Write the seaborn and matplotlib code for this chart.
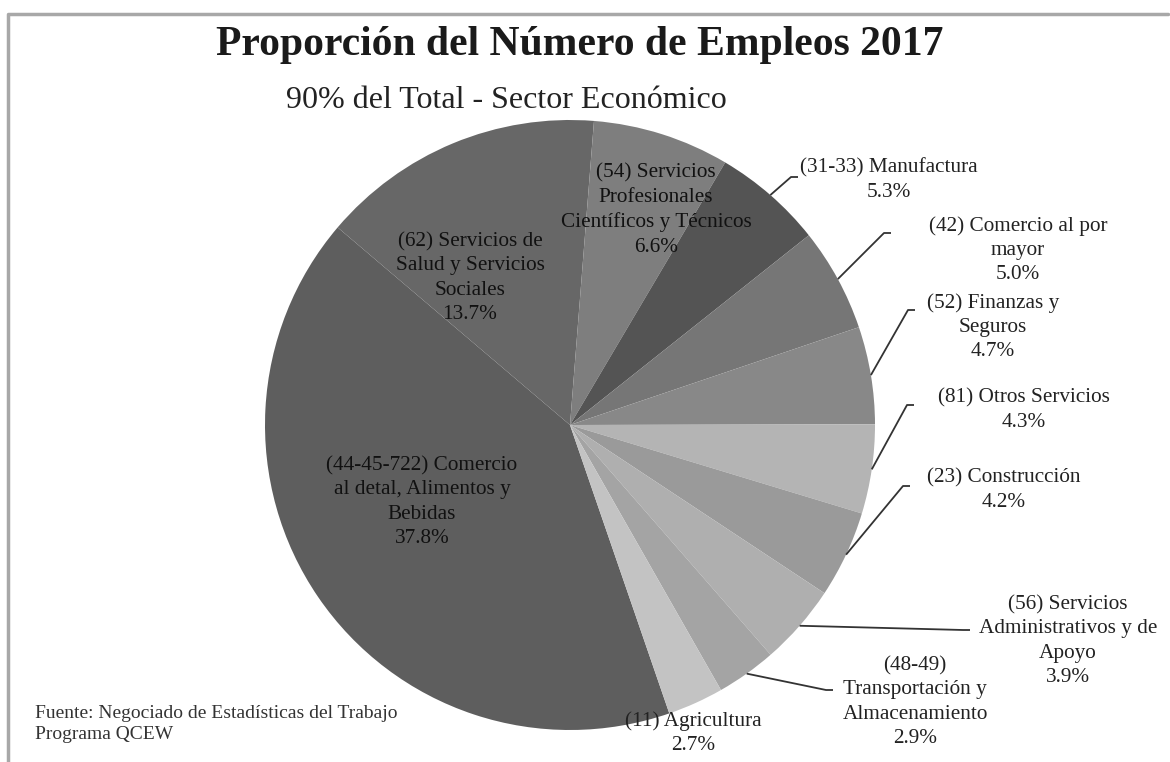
import matplotlib.pyplot as plt
import numpy as np
import seaborn as sns

# datos del grafico (porcentaje del total de empleos, 2017)
sectors = [
    "(44-45-722) Comercio\nal detal, Alimentos y\nBebidas",
    "(62) Servicios de\nSalud y Servicios\nSociales",
    "(54) Servicios\nProfesionales\nCientíficos y Técnicos",
    "(31-33) Manufactura",
    "(42) Comercio al por\nmayor",
    "(52) Finanzas y\nSeguros",
    "(81) Otros Servicios",
    "(23) Construcción",
    "(56) Servicios\nAdministrativos y de\nApoyo",
    "(48-49)\nTransportación y\nAlmacenamiento",
    "(11) Agricultura",
]
shares = [37.8, 13.7, 6.6, 5.3, 5.0, 4.7, 4.3, 4.2, 3.9, 2.9, 2.7]

title = "Proporción del Número de Empleos 2017"
subtitle = "90% del Total - Sector Económico"
source = "Fuente: Negociado de Estadísticas del Trabajo\nPrograma QCEW"

grays = ["#5e5e5e", "#676767", "#7e7e7e", "#545454", "#767676", "#888888",
         "#b4b4b4", "#9a9a9a", "#afafaf", "#a4a4a4", "#c3c3c3"]

# layout in pixels (y measured from the top of the image)
W, H = 1170, 762
center_px = (570, 425)
radius_px = 305
label_px = [(422, 502), (470, 278), (656, 210), (889, 180), (1018, 250), (993, 327),
            (1024, 410), (1004, 490), (1068, 641), (915, 702), (693, 733)]
# elbow of each leader line (None = label sits on the slice)
elbow_px = [None, None, None, (791, 177), (884, 233), (908, 310),
            (907, 405), (903, 486), (963, 630), (826, 690), None]
inside = [True, True, True] + [False] * 8

sns.set_theme(style="white")
plt.rcParams['font.family'] = ['Liberation Serif', 'DejaVu Serif']

fig = plt.figure(figsize=(W / 100, H / 100), dpi=100)
ax = fig.add_axes([0, 0, 1, 1])


def to_xy(p):
    return p[0], H - p[1]


cx, cy = to_xy(center_px)
wedges, _ = ax.pie(shares, colors=grays, startangle=289, counterclock=False,
                   center=(cx, cy), radius=radius_px,
                   wedgeprops=dict(linewidth=0), frame=True)
ax.set_xlim(0, W)
ax.set_ylim(0, H)
ax.set_aspect('equal')
ax.axis('off')

for i, w in enumerate(wedges):
    pct = "{:.1f}%".format(shares[i])
    lx, ly = to_xy(label_px[i])
    txt_color = '#111111' if inside[i] else '#222222'
    ax.text(lx, ly, sectors[i] + "\n" + pct, ha='center', va='center',
            fontsize=15.3, color=txt_color, linespacing=1.38)
    if elbow_px[i] is not None:
        mid = np.deg2rad((w.theta1 + w.theta2) / 2)
        ex = cx + radius_px * np.cos(mid)
        ey = cy + radius_px * np.sin(mid)
        bx, by = to_xy(elbow_px[i])
        ax.plot([ex, bx, bx + 7], [ey, by, by], color='#333333', lw=1.3,
                solid_capstyle='butt')

ax.text(580, H - 45, title, ha='center', va='center', fontsize=30,
        fontweight='bold', color='#1a1a1a')
ax.text(506, H - 100, subtitle, ha='center', va='center', fontsize=23,
        color='#222222')
ax.text(35, H - 724, source, ha='left', va='center', fontsize=14,
        color='#333333', linespacing=1.25)

# marco del area del grafico
ax.plot([8, 8, 1168], [0, H - 14, H - 14], color='#a8a8a8', lw=2.5)

fig.savefig("out.png", dpi=100)
